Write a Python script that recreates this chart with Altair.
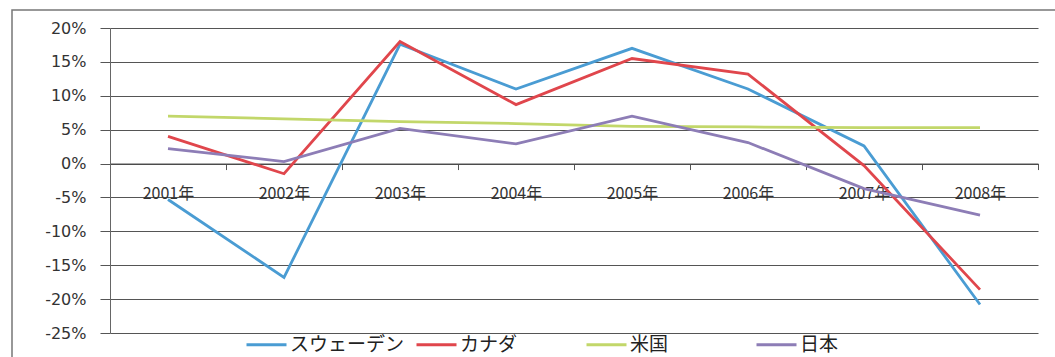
import altair as alt
import pandas as pd

# Annual change by country, percent
years = ["2001年", "2002年", "2003年", "2004年", "2005年", "2006年", "2007年", "2008年"]
countries = ["スウェーデン", "カナダ", "米国", "日本"]
sweden = [-5.3, -16.8, 17.6, 11.0, 17.0, 11.0, 2.6, -20.8]
canada = [4.0, -1.5, 18.0, 8.7, 15.5, 13.2, -0.3, -18.6]
usa = [7.0, 6.6, 6.2, 5.9, 5.5, 5.4, 5.3, 5.3]
japan = [2.2, 0.3, 5.2, 2.9, 7.0, 3.1, -3.7, -7.6]
colors = ["#4a9cd3", "#e0464c", "#c2d76a", "#8d7db6"]

series = {"スウェーデン": sweden, "カナダ": canada, "米国": usa, "日本": japan}
rows = [
    {"year": y, "country": c, "value": v}
    for c, vals in series.items()
    for y, v in zip(years, vals)
]
df = pd.DataFrame(rows)

W, H = 928, 305
Y_MIN, Y_MAX = -25, 20
zero_offset = -H * (0 - Y_MIN) / (Y_MAX - Y_MIN)

lines = alt.Chart(df).mark_line(strokeWidth=2.8).encode(
    x=alt.X(
        "year:O",
        sort=years,
        bandPosition=0.5,
        scale=alt.Scale(type="band", paddingInner=0, paddingOuter=0),
        axis=alt.Axis(
            title=None,
            offset=zero_offset,
            tickBand="extent",
            tickSize=6,
            tickColor="#555",
            domainColor="#444",
            grid=False,
            labelAngle=0,
            labelPadding=16,
            labelFont="Noto Sans CJK JP",
            labelFontSize=16,
            labelColor="#333",
        ),
    ),
    y=alt.Y(
        "value:Q",
        scale=alt.Scale(domain=[Y_MIN, Y_MAX], nice=False),
        axis=alt.Axis(
            title=None,
            values=list(range(Y_MIN, Y_MAX + 1, 5)),
            labelExpr="datum.value + '%'",
            tickSize=10,
            tickColor="#555",
            domainColor="#666",
            gridColor="#555",
            gridWidth=1,
            labelPadding=14,
            labelFont="DejaVu Sans",
            labelFontSize=16,
            labelColor="#333",
        ),
    ),
    color=alt.Color(
        "country:N",
        sort=countries,
        scale=alt.Scale(domain=countries, range=colors),
        legend=alt.Legend(
            title=None,
            orient="none",
            legendX=135,
            legendY=295,
            direction="horizontal",
            columns=4,
            gridAlign="all",
            columnPadding=5,
            symbolType="stroke",
            symbolSize=1600,
            symbolStrokeWidth=3,
            labelOffset=2,
            labelFont="Noto Sans CJK JP",
            labelFontSize=19,
            labelColor="#222",
        ),
    ),
)

# outer frame around the chart
frame = alt.Chart(pd.DataFrame({"f": [0]})).mark_rect(
    filled=False, stroke="#777", strokeWidth=1.5
).encode(
    x=alt.value(-98), x2=alt.value(1000), y=alt.value(-18), y2=alt.value(400)
)

chart = alt.layer(frame, lines).properties(
    width=W,
    height=H,
    autosize="none",
    padding={"left": 110, "top": 28, "right": 17, "bottom": 24},
    background="white",
).configure_view(stroke=None)

chart.save("out.html", embed_options={"renderer": "svg", "actions": False})
